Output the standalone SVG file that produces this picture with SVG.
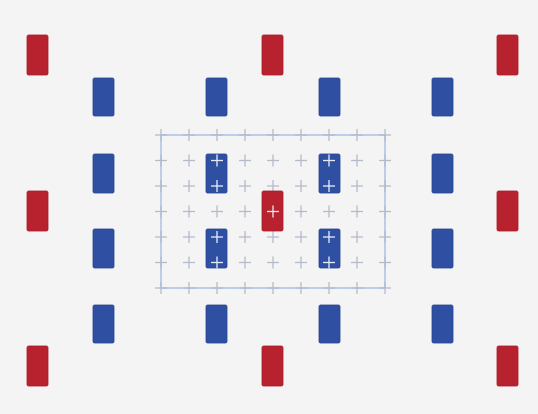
<svg xmlns="http://www.w3.org/2000/svg" xmlns:xlink="http://www.w3.org/1999/xlink" width="538" height="414" viewBox="0 0 538 414">
<style>
.red{fill:#b8222f;stroke:#a81c28;stroke-width:0.8}
.blue{fill:#2f50a2;stroke:#27458f;stroke-width:0.8}
.frame{fill:none;stroke:#a9c2e6;stroke-width:1.5}
.cx{stroke:#b4bccb;stroke-width:1.3}
.wx{stroke:#e6ecf7;stroke-width:1.3}
</style>
<defs>
<g id="plus"><line x1="-6" y1="0" x2="6" y2="0"/><line x1="0" y1="-6" x2="0" y2="6"/></g>
</defs>
<rect width="538" height="414" fill="#f4f4f4"/>
<g id="grid">
<rect class="frame" x="161" y="135" width="224" height="153"/>
<g class="cx">
<use xlink:href="#plus" x="161" y="135"/><use xlink:href="#plus" x="189" y="135"/><use xlink:href="#plus" x="217" y="135"/><use xlink:href="#plus" x="245" y="135"/><use xlink:href="#plus" x="273" y="135"/><use xlink:href="#plus" x="301" y="135"/><use xlink:href="#plus" x="329" y="135"/><use xlink:href="#plus" x="357" y="135"/><use xlink:href="#plus" x="385" y="135"/>
<use xlink:href="#plus" x="161" y="160.5"/><use xlink:href="#plus" x="189" y="160.5"/><use xlink:href="#plus" x="245" y="160.5"/><use xlink:href="#plus" x="273" y="160.5"/><use xlink:href="#plus" x="301" y="160.5"/><use xlink:href="#plus" x="357" y="160.5"/><use xlink:href="#plus" x="385" y="160.5"/>
<use xlink:href="#plus" x="161" y="186"/><use xlink:href="#plus" x="189" y="186"/><use xlink:href="#plus" x="245" y="186"/><use xlink:href="#plus" x="273" y="186"/><use xlink:href="#plus" x="301" y="186"/><use xlink:href="#plus" x="357" y="186"/><use xlink:href="#plus" x="385" y="186"/>
<use xlink:href="#plus" x="161" y="211.5"/><use xlink:href="#plus" x="189" y="211.5"/><use xlink:href="#plus" x="217" y="211.5"/><use xlink:href="#plus" x="245" y="211.5"/><use xlink:href="#plus" x="301" y="211.5"/><use xlink:href="#plus" x="329" y="211.5"/><use xlink:href="#plus" x="357" y="211.5"/><use xlink:href="#plus" x="385" y="211.5"/>
<use xlink:href="#plus" x="161" y="237"/><use xlink:href="#plus" x="189" y="237"/><use xlink:href="#plus" x="245" y="237"/><use xlink:href="#plus" x="273" y="237"/><use xlink:href="#plus" x="301" y="237"/><use xlink:href="#plus" x="357" y="237"/><use xlink:href="#plus" x="385" y="237"/>
<use xlink:href="#plus" x="161" y="262.5"/><use xlink:href="#plus" x="189" y="262.5"/><use xlink:href="#plus" x="245" y="262.5"/><use xlink:href="#plus" x="273" y="262.5"/><use xlink:href="#plus" x="301" y="262.5"/><use xlink:href="#plus" x="357" y="262.5"/><use xlink:href="#plus" x="385" y="262.5"/>
<use xlink:href="#plus" x="161" y="288"/><use xlink:href="#plus" x="189" y="288"/><use xlink:href="#plus" x="217" y="288"/><use xlink:href="#plus" x="245" y="288"/><use xlink:href="#plus" x="273" y="288"/><use xlink:href="#plus" x="301" y="288"/><use xlink:href="#plus" x="329" y="288"/><use xlink:href="#plus" x="357" y="288"/><use xlink:href="#plus" x="385" y="288"/>
</g>
</g>
<g id="connectors"></g>
<g id="red-nodes">
<g id="r1"><rect class="red" x="27" y="35" width="21" height="40" rx="1.5"/></g>
<g id="r2"><rect class="red" x="262" y="35" width="21" height="40" rx="1.5"/></g>
<g id="r3"><rect class="red" x="497" y="35" width="21" height="40" rx="1.5"/></g>
<g id="r4"><rect class="red" x="27" y="191" width="21" height="40" rx="1.5"/></g>
<g id="r5"><rect class="red" x="262" y="191" width="21" height="40" rx="1.5"/><use class="wx" xlink:href="#plus" x="273" y="211.5"/></g>
<g id="r6"><rect class="red" x="497" y="191" width="21" height="40" rx="1.5"/></g>
<g id="r7"><rect class="red" x="27" y="346" width="21" height="40" rx="1.5"/></g>
<g id="r8"><rect class="red" x="262" y="346" width="21" height="40" rx="1.5"/></g>
<g id="r9"><rect class="red" x="497" y="346" width="21" height="40" rx="1.5"/></g>
</g>
<g id="blue-nodes">
<g id="b1"><rect class="blue" x="93" y="78" width="21" height="38" rx="1.5"/></g>
<g id="b2"><rect class="blue" x="206" y="78" width="21" height="38" rx="1.5"/></g>
<g id="b3"><rect class="blue" x="319" y="78" width="21" height="38" rx="1.5"/></g>
<g id="b4"><rect class="blue" x="432" y="78" width="21" height="38" rx="1.5"/></g>
<g id="b5"><rect class="blue" x="93" y="154" width="21" height="39" rx="1.5"/></g>
<g id="b6"><rect class="blue" x="206" y="154" width="21" height="39" rx="1.5"/><use class="wx" xlink:href="#plus" x="217" y="160.5"/><use class="wx" xlink:href="#plus" x="217" y="186"/></g>
<g id="b7"><rect class="blue" x="319" y="154" width="21" height="39" rx="1.5"/><use class="wx" xlink:href="#plus" x="329" y="160.5"/><use class="wx" xlink:href="#plus" x="329" y="186"/></g>
<g id="b8"><rect class="blue" x="432" y="154" width="21" height="39" rx="1.5"/></g>
<g id="b9"><rect class="blue" x="93" y="229" width="21" height="39" rx="1.5"/></g>
<g id="b10"><rect class="blue" x="206" y="229" width="21" height="39" rx="1.5"/><use class="wx" xlink:href="#plus" x="217" y="237"/><use class="wx" xlink:href="#plus" x="217" y="262.5"/></g>
<g id="b11"><rect class="blue" x="319" y="229" width="21" height="39" rx="1.5"/><use class="wx" xlink:href="#plus" x="329" y="237"/><use class="wx" xlink:href="#plus" x="329" y="262.5"/></g>
<g id="b12"><rect class="blue" x="432" y="229" width="21" height="39" rx="1.5"/></g>
<g id="b13"><rect class="blue" x="93" y="305" width="21" height="38" rx="1.5"/></g>
<g id="b14"><rect class="blue" x="206" y="305" width="21" height="38" rx="1.5"/></g>
<g id="b15"><rect class="blue" x="319" y="305" width="21" height="38" rx="1.5"/></g>
<g id="b16"><rect class="blue" x="432" y="305" width="21" height="38" rx="1.5"/></g>
</g>
</svg>
